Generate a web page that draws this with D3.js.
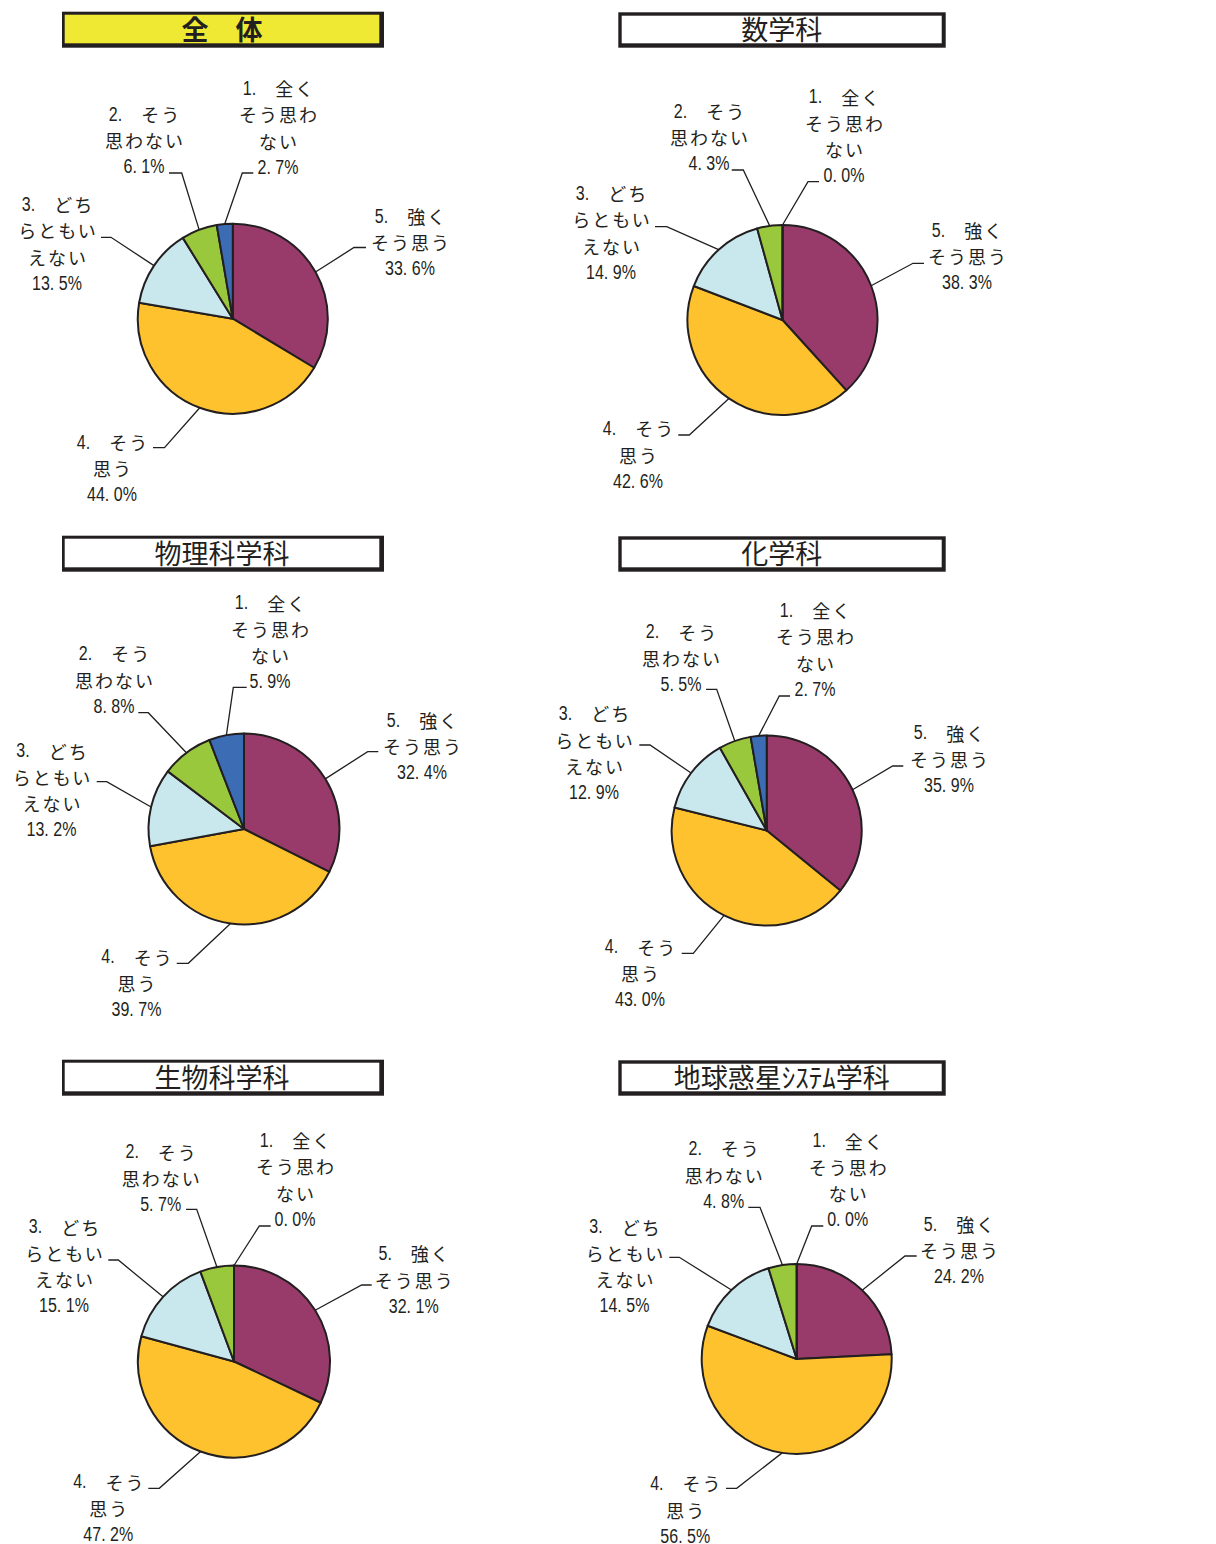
<!DOCTYPE html>
<html>
<head>
<meta charset="utf-8">
<script src="https://cdn.jsdelivr.net/npm/d3@7"></script>
<style>
  html, body { margin: 0; padding: 0; background: #fff; }
  svg { display: block; }
  text { font-family: "Noto Sans CJK JP", "Noto Sans", sans-serif; fill: #231f20; }
  .num { font-family: "Liberation Sans", Arial, sans-serif; font-size: 20px; }
  .jp { font-size: 18px; letter-spacing: 2px; }
</style>
</head>
<body>
<svg id="chart" width="1216" height="1544"></svg>
<script>
// ---- data ----
const categoryNumbers = ["5.", "4.", "3.", "2.", "1."];
const categoryLines = [
  ["強く", "そう思う"],
  ["そう", "思う"],
  ["どち", "らともい", "えない"],
  ["そう", "思わない"],
  ["全く", "そう思わ", "ない"]
];
const groupNames = ["全　体", "数学科", "物理科学科", "化学科", "生物科学科", "地球惑星ｼｽﾃﾑ学科"];
const zentaiValues   = [33.6, 44.0, 13.5, 6.1, 2.7];
const suugakuValues  = [38.3, 42.6, 14.9, 4.3, 0.0];
const butsuriValues  = [32.4, 39.7, 13.2, 8.8, 5.9];
const kagakuValues   = [35.9, 43.0, 12.9, 5.5, 2.7];
const seibutsuValues = [32.1, 47.2, 15.1, 5.7, 0.0];
const chikyuuValues  = [24.2, 56.5, 14.5, 4.8, 0.0];
const groupValues = [zentaiValues, suugakuValues, butsuriValues, kagakuValues, seibutsuValues, chikyuuValues];

// ---- layout (positions / styles) ----
const sliceColors = ["#983b6b", "#fec22f", "#c8e8ee", "#99c83d", "#3b6cb4"];
const titleFills = ["#f0e933", "#fff", "#fff", "#fff", "#fff", "#fff"];
const titleBold = [true, false, false, false, false, false];
const titleBoxes = [
  {x: 62, y: 11.7, w: 322, h: 36, ix: 64.7, iy: 14.7, iw: 314.6, ih: 28.6},
  {x: 618.3, y: 12.3, w: 327.4, h: 35.4, ix: 621.7, iy: 15.7, iw: 320, ih: 27.6}
];
const pieGeom = [
  {cx: 232.8, cy: 318.7, r: 95},
  {cx: 782.5, cy: 320,   r: 95},
  {cx: 244,   cy: 829,   r: 95.5},
  {cx: 766.7, cy: 830.5, r: 95},
  {cx: 234,   cy: 1361.5,r: 96},
  {cx: 796.7, cy: 1359,  r: 95}
];
// per chart, per category (5,4,3,2,1): text centre x, first line y, elbow x, elbow y, horizontal end x
const labelLayout = [
  [[410,216,354,247.5,366],[112,442,164.5,447.7,153],[57,204,111,237.3,101],[144,114,181.7,173,169],[278,88,242.3,173,253.3]],
  [[967,230,913,263.3,924],[638,428.3,689.3,435,678.3],[611,193,666.7,226.7,655],[709,111,743.3,170,731.7],[844,96.7,808,181.7,819]],
  [[422,720,367.7,751.7,378.3],[136.5,956.7,188.3,963.3,176.7],[51.5,750.7,106.7,781.7,96.7],[114,653.3,148.3,712.7,138.3],[270,602.7,233.3,687.3,246.7]],
  [[949,732.7,892.7,766,903.3],[640,946.7,693.3,953.3,681.7],[594,713.3,650,745,639.3],[681,631.7,716.7,689.3,706],[815,610,779.3,696,790]],
  [[413.7,1253.3,361.7,1285,371.7],[108.3,1481.7,159.3,1488.3,148.3],[64,1226.7,118.3,1260,108.3],[160.7,1151.7,196.7,1209.3,186],[295,1140,259.3,1226,270.7]],
  [[959,1224,905,1256,916.7],[685.3,1483.3,736.7,1488.3,726],[624.5,1226.7,679.3,1257.3,669.3],[723.7,1148.3,760,1207.3,748.3],[847.7,1140.7,811.7,1226,823.3]]
];
const rowOffset = 524;
const lineGap = 26.3;
const numScale = 0.8;

const svg = d3.select("#chart");
const pie = d3.pie().sort(null).value(d => d).startAngle(0).endAngle(2 * Math.PI);

// draw one centred line made of several differently styled parts
function drawLine(parent, parts, cx, cy) {
  const lg = parent.append("g");
  let x = 0;
  parts.forEach(p => {
    x += (p.gap || 0);
    const sx = p.num ? numScale : 1;
    const t = lg.append("text")
      .attr("class", p.num ? "num" : "jp")
      .attr("dominant-baseline", "central")
      .attr("transform", `translate(${x},0) scale(${sx},1)`)
      .text(p.text);
    let w = t.node().getComputedTextLength() * sx;
    if (!p.num) w -= 2; // trailing letter-spacing
    x += w;
  });
  lg.attr("transform", `translate(${cx - x / 2},${cy})`);
}

groupNames.forEach((name, gi) => {
  const col = gi % 2, row = Math.floor(gi / 2);
  const tb = titleBoxes[col];
  const dy = row * rowOffset;
  const g = svg.append("g");

  // title box
  g.append("rect").attr("x", tb.x).attr("y", tb.y + dy).attr("width", tb.w).attr("height", tb.h).attr("fill", "#231f20");
  g.append("rect").attr("x", tb.ix).attr("y", tb.iy + dy).attr("width", tb.iw).attr("height", tb.ih).attr("fill", titleFills[gi]);
  g.append("text")
    .attr("x", tb.ix + tb.iw / 2).attr("y", tb.iy + dy + tb.ih / 2 - 1)
    .attr("text-anchor", "middle").attr("dominant-baseline", "central")
    .style("font-size", "27px").style("font-weight", titleBold[gi] ? 700 : 400)
    .text(name);

  // pie
  const pg = pieGeom[gi];
  const arc = d3.arc().innerRadius(0).outerRadius(pg.r);
  const arcs = pie(groupValues[gi]);
  const pieG = g.append("g").attr("transform", `translate(${pg.cx},${pg.cy})`);
  pieG.selectAll("path").data(arcs).join("path")
    .attr("d", arc)
    .attr("fill", (d, i) => sliceColors[i])
    .attr("stroke", "#231f20").attr("stroke-width", 2).attr("stroke-linejoin", "round");

  // labels + leaders
  arcs.forEach((a, i) => {
    const [tx, ty, ex, ey, hx] = labelLayout[gi][i];
    const mid = (a.startAngle + a.endAngle) / 2;
    const sx = pg.cx + pg.r * Math.sin(mid);
    const sy = pg.cy - pg.r * Math.cos(mid);
    g.append("polyline")
      .attr("points", `${sx},${sy} ${ex},${ey} ${hx},${ey}`)
      .attr("fill", "none").attr("stroke", "#231f20").attr("stroke-width", 1.3);

    const lines = categoryLines[i];
    // first line: number + text
    drawLine(g, [{text: categoryNumbers[i], num: true}, {text: lines[0], gap: 19}], tx, ty);
    for (let li = 1; li < lines.length; li++) {
      drawLine(g, [{text: lines[li]}], tx, ty + li * lineGap);
    }
    const parts = a.data.toFixed(1).split(".");
    drawLine(g, [{text: parts[0] + ".", num: true}, {text: parts[1] + "%", num: true, gap: 4.5}],
      tx, ty + lines.length * lineGap);
  });
});
</script>
</body>
</html>
